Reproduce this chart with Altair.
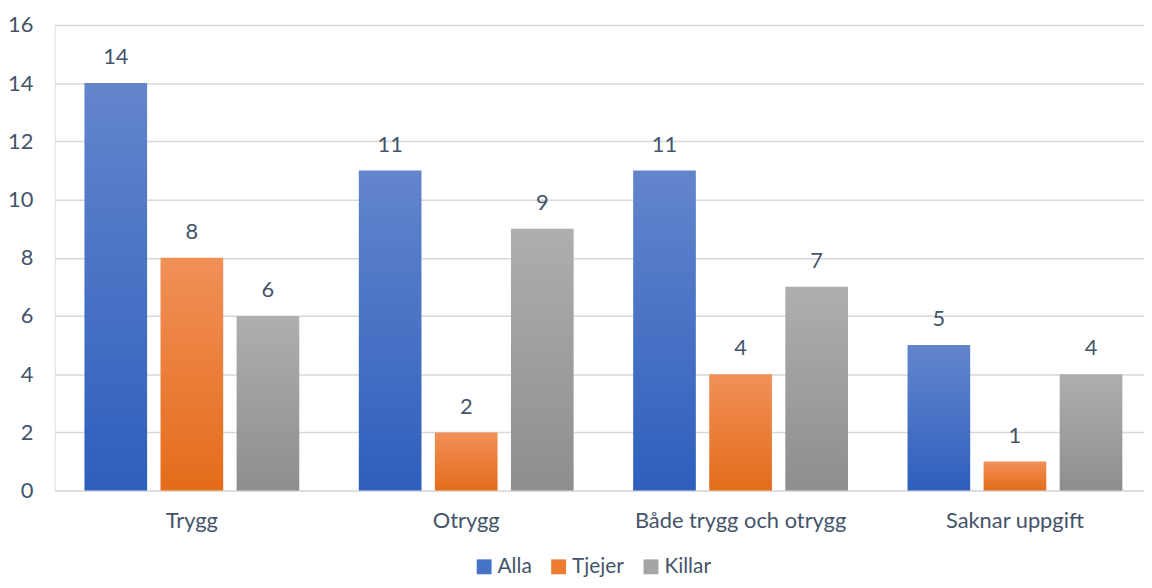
import altair as alt
import pandas as pd

categories = ["Trygg", "Otrygg", "Både trygg och otrygg", "Saknar uppgift"]
series = ["Alla", "Tjejer", "Killar"]
alla = [14, 11, 11, 5]
tjejer = [8, 2, 4, 1]
killar = [6, 9, 7, 4]

rows = []
for s, vals in zip(series, [alla, tjejer, killar]):
    for c, v in zip(categories, vals):
        rows.append({"cat": c, "series": s, "value": v})
df = pd.DataFrame(rows)

grads = {
    "Alla": ("#6385CC", "#2E5FBD"),
    "Tjejer": ("#F19058", "#E46C1A"),
    "Killar": ("#AEAEAE", "#8E8E8E"),
}
legend_cols = ["#4472C4", "#ED7D31", "#A5A5A5"]
txt = "#44546A"
font = "Lato"
fs = 22

x_enc = alt.X("cat:N", sort=categories, title=None,
              scale=alt.Scale(type="band", paddingInner=0.217, paddingOuter=0.0937, align=0.579),
              axis=alt.Axis(labelFontSize=fs, labelColor=txt, labelFont=font,
                            ticks=False, domain=False, labelLimit=0,
                            labelPadding=20, labelAngle=0))
xo_enc = alt.XOffset("series:N", sort=series,
                     scale=alt.Scale(type="band", domain=series, paddingInner=0.176, paddingOuter=0))
y_enc = alt.Y("value:Q", title=None,
              scale=alt.Scale(domain=[0, 16], nice=False),
              axis=alt.Axis(values=list(range(0, 17, 2)), labelFontSize=fs,
                            labelColor=txt, labelFont=font, ticks=False,
                            domain=False, gridColor="#D9D9D9", gridWidth=1.5,
                            labelPadding=22))

base = alt.Chart(df)
layers = []
for s in series:
    top, bottom = grads[s]
    layers.append(
        base.transform_filter(alt.datum.series == s).mark_bar(
            color=alt.Gradient(gradient="linear", x1=0, x2=0, y1=0, y2=1,
                               stops=[alt.GradientStop(color=top, offset=0),
                                      alt.GradientStop(color=bottom, offset=1)])
        ).encode(x=x_enc, xOffset=xo_enc, y=y_enc)
    )

labels = base.mark_text(fontSize=fs, font=font, color=txt, baseline="middle", dy=-26).encode(
    x=x_enc, xOffset=xo_enc, y=y_enc, text="value:Q")

legend_layer = base.mark_bar(opacity=0).encode(
    x=x_enc, xOffset=xo_enc, y=y_enc,
    color=alt.Color("series:N", sort=series,
                    scale=alt.Scale(domain=series, range=legend_cols),
                    legend=alt.Legend(title=None, orient="none", direction="horizontal",
                                      legendX=422, legendY=535, padding=0,
                                      symbolType="square", symbolSize=225,
                                      symbolOpacity=1, symbolStrokeWidth=0,
                                      labelFontSize=21, labelFont=font, labelColor=txt,
                                      columnPadding=16, labelOffset=3)))

chart = alt.layer(*layers, labels, legend_layer).properties(
    width=1097, height=469,
    autosize=alt.AutoSizeParams(type="none"),
    padding={"left": 47, "top": 15, "right": 0, "bottom": 88},
).configure_view(stroke=None).configure(background="white")

chart.save("out.html", embed_options={"renderer": "svg", "actions": False})
